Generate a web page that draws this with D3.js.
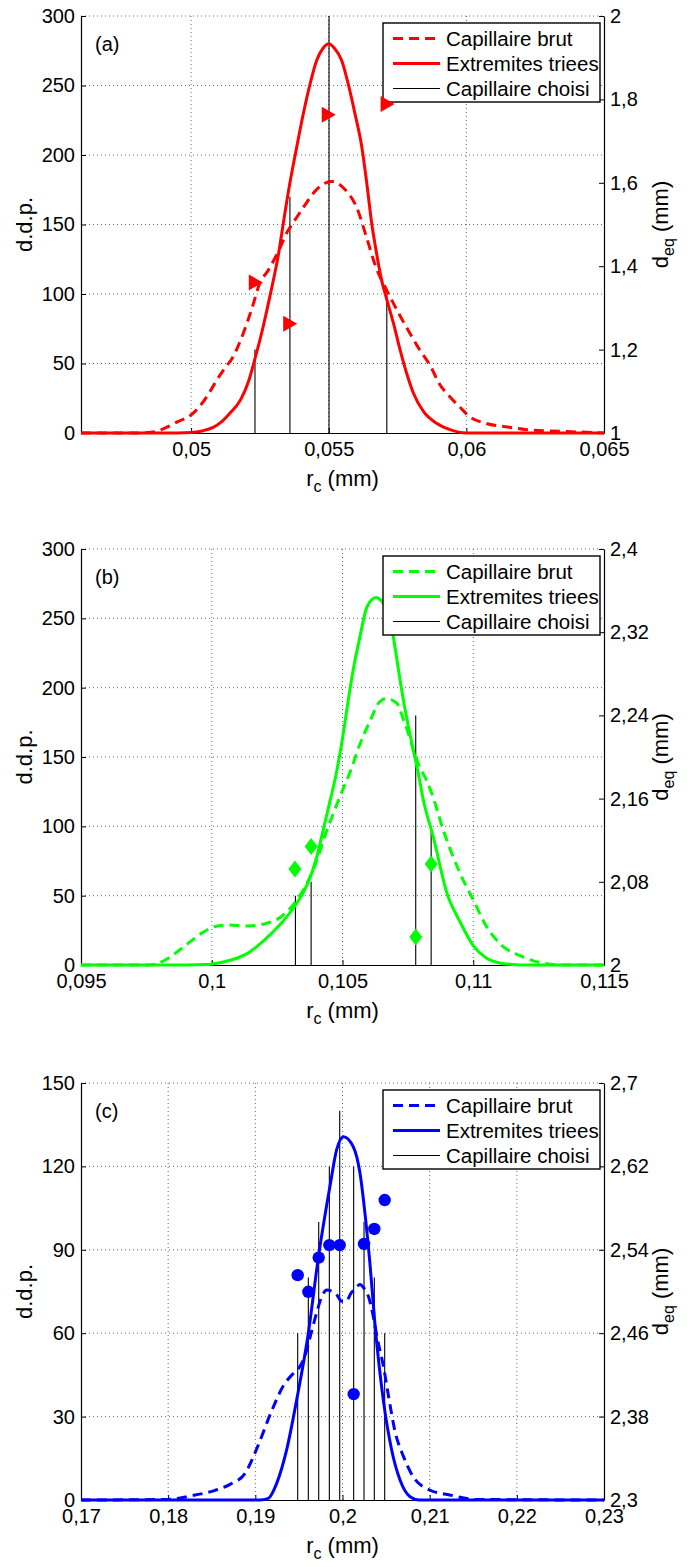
<!DOCTYPE html>
<html><head><meta charset="utf-8">
<script src="https://cdn.jsdelivr.net/npm/d3@7"></script>
<style>
body{margin:0;background:#fff}
svg{display:block}
text{font-family:"Liberation Sans",Arial,Helvetica,sans-serif}
</style>
</head><body>
<svg id="chart" width="690" height="1567"></svg>
<script>
// ---------------- Panel (a) ----------------
const aXTicks = [0.05, 0.055, 0.06, 0.065];
const aYTicks = [0, 50, 100, 150, 200, 250, 300];
const aY2Ticks = [1, 1.2, 1.4, 1.6, 1.8, 2];
const aBrutR = [0.046, 0.0480, 0.0486, 0.0491, 0.0495, 0.0500, 0.0503, 0.0506, 0.0509, 0.0512, 0.0515, 0.0519, 0.0522, 0.0525, 0.0528, 0.0532, 0.0535, 0.0537, 0.0541, 0.0546, 0.0551, 0.0556, 0.0560, 0.0564, 0.0567, 0.0571, 0.0576, 0.0580, 0.0583, 0.0587, 0.0590, 0.0594, 0.0598, 0.0601, 0.0607, 0.0615, 0.0622, 0.0634, 0.0648, 0.0650];
const aBrutV = [0, 0, 0.7, 4, 8, 13, 19, 27, 37, 46, 54, 72, 89, 108, 117, 132, 145, 151, 163, 176, 181, 175, 163, 139, 120, 103, 84, 70, 60, 48, 36, 26, 18, 12, 7, 4.3, 2.4, 1.2, 0.2, 0];
const aTrieR = [0.046, 0.0495, 0.0500, 0.0504, 0.0508, 0.0511, 0.0514, 0.0518, 0.0521, 0.0523, 0.0526, 0.05287, 0.0530, 0.05317, 0.05335, 0.05359, 0.05384, 0.05408, 0.05432, 0.05456, 0.0548, 0.0550, 0.0552, 0.05547, 0.05571, 0.05595, 0.0562, 0.05638, 0.05656, 0.05674, 0.05692, 0.05711, 0.05735, 0.05759, 0.05783, 0.05807, 0.05844, 0.05892, 0.05941, 0.0600, 0.065];
const aTrieV = [0, 0, 0.3, 1.5, 4, 8, 14, 24, 38, 52, 75, 99, 111, 128, 151, 180, 206, 230, 251, 268, 277, 280, 277, 268, 251, 230, 206, 180, 151, 129, 110, 96, 79, 60, 43, 29, 15.5, 7, 2.4, 0, 0];
const aChoisiR = [0.05232, 0.05359, 0.05501, 0.05711];
const aChoisiH = [60, 170, 300, 100];
const aDeqR = [0.05235, 0.0536, 0.0550, 0.05714];
const aDeqV = [1.361, 1.262, 1.763, 1.789];

// ---------------- Panel (b) ----------------
const bXTicks = [0.095, 0.1, 0.105, 0.11, 0.115];
const bYTicks = [0, 50, 100, 150, 200, 250, 300];
const bY2Ticks = [2, 2.08, 2.16, 2.24, 2.32, 2.4];
const bBrutR = [0.095, 0.0976, 0.0981, 0.0986, 0.0991, 0.0996, 0.1001, 0.1006, 0.1014, 0.1020, 0.10265, 0.10316, 0.1034, 0.10388, 0.1044, 0.1050, 0.10533, 0.10564, 0.10603, 0.10643, 0.10666, 0.10707, 0.10733, 0.10752, 0.10771, 0.1079, 0.10822, 0.10841, 0.10886, 0.1095, 0.1100, 0.1105, 0.1111, 0.1118, 0.1125, 0.1135, 0.115];
const bBrutV = [0, 0, 2.4, 8.4, 15.6, 22.8, 27.6, 28.8, 28.1, 29.6, 34.8, 44.5, 51, 68.5, 97, 126, 141, 158, 175, 190, 192, 189, 177, 167, 155, 145, 133, 124, 97, 66, 47, 28, 14, 6.7, 2, 0, 0];
const bTrieR = [0.095, 0.0990, 0.0998, 0.1000, 0.10074, 0.10137, 0.10201, 0.10265, 0.10316, 0.1034, 0.1037, 0.1040, 0.10427, 0.10452, 0.10475, 0.10503, 0.10522, 0.10541, 0.10567, 0.10593, 0.10628, 0.10669, 0.10694, 0.10714, 0.10733, 0.10752, 0.10771, 0.1079, 0.10809, 0.10847, 0.10899, 0.1095, 0.1100, 0.1105, 0.1110, 0.1115, 0.1120, 0.115];
const bTrieV = [0, 0, 0.3, 0.7, 3.6, 8.4, 18, 30, 42, 49, 60, 77, 98, 118, 137, 167, 191, 213, 237, 258, 265, 256, 237, 213, 191, 172, 155, 138, 119, 92.5, 52, 31, 14, 5, 1.5, 0.4, 0, 0];
const bChoisiR = [0.10320, 0.10380, 0.10780, 0.10839];
const bChoisiH = [50, 60, 180, 100];
const bDeqR = [0.10318, 0.10380, 0.10780, 0.10839];
const bDeqV = [2.0923, 2.1140, 2.0270, 2.0970];

// ---------------- Panel (c) ----------------
const cXTicks = [0.17, 0.18, 0.19, 0.2, 0.21, 0.22, 0.23];
const cYTicks = [0, 30, 60, 90, 120, 150];
const cY2Ticks = [2.3, 2.38, 2.46, 2.54, 2.62, 2.7];
const cBrutR = [0.17, 0.1800, 0.1826, 0.1852, 0.1872, 0.1888, 0.1903, 0.1918, 0.1932, 0.1942, 0.1949, 0.1957, 0.1964, 0.1970, 0.1976, 0.1982, 0.1986, 0.1993, 0.1999, 0.2004, 0.2010, 0.2016, 0.2020, 0.2025, 0.2030, 0.2034, 0.2040, 0.2047, 0.2053, 0.2060, 0.2070, 0.2081, 0.2100, 0.2123, 0.2154, 0.23];
const cBrutV = [0, 0.2, 1.5, 3.3, 5.8, 9.5, 19.5, 31.5, 41, 45, 47, 52, 60, 67, 73, 75.5, 75.3, 74, 71.5, 71.5, 74.5, 76.5, 77.5, 76, 73, 68, 58, 48, 37, 25, 15.6, 8.4, 3.6, 1.8, 0.2, 0];
const cTrieR = [0.17, 0.1905, 0.19149, 0.19245, 0.19359, 0.19474, 0.19608, 0.19722, 0.19857, 0.19933, 0.2001, 0.20124, 0.20201, 0.20258, 0.20315, 0.20373, 0.20468, 0.20564, 0.2066, 0.20775, 0.2088, 0.23];
const cTrieV = [0, 0, 0.6, 6, 18, 36, 60, 87, 113, 126, 130.7, 127, 117.5, 103, 85, 63, 36, 18, 7.2, 1.2, 0, 0];
const cChoisiR = [0.19486, 0.19608, 0.19727, 0.19849, 0.19968, 0.20128, 0.20247, 0.20365, 0.20484];
const cChoisiH = [60, 80, 100, 120, 140, 120, 100, 80, 60];
const cDeqR = [0.19486, 0.19608, 0.19727, 0.19849, 0.19968, 0.20128, 0.20247, 0.20365, 0.20484];
const cDeqV = [2.5157, 2.4997, 2.5325, 2.5445, 2.5445, 2.4016, 2.5456, 2.5600, 2.5877];

const legendLabels = ["Capillaire brut", "Extremites triees", "Capillaire choisi"];

// ---------------- drawing ----------------
const svg = d3.select("#chart");
const locale = d3.formatLocale({decimal: ",", thousands: "", grouping: [3], currency: ["", ""]});
const fmt = locale.format("~g");
const FONT = '"Liberation Sans",Arial,Helvetica,sans-serif';
const L = 81, R = 604;

const panels = [
  {tag: "(a)", top: 16, bottom: 433, color: "#ff0000", marker: "tri",
   xd: [0.046, 0.065], yd: [0, 300], y2d: [1, 2],
   xt: aXTicks, yt: aYTicks, y2t: aY2Ticks,
   brutR: aBrutR, brutV: aBrutV, trieR: aTrieR, trieV: aTrieV,
   chR: aChoisiR, chH: aChoisiH, dR: aDeqR, dV: aDeqV},
  {tag: "(b)", top: 549, bottom: 965, color: "#00ff00", marker: "dia",
   xd: [0.095, 0.115], yd: [0, 300], y2d: [2, 2.4],
   xt: bXTicks, yt: bYTicks, y2t: bY2Ticks,
   brutR: bBrutR, brutV: bBrutV, trieR: bTrieR, trieV: bTrieV,
   chR: bChoisiR, chH: bChoisiH, dR: bDeqR, dV: bDeqV},
  {tag: "(c)", top: 1083, bottom: 1500, color: "#0000ff", marker: "circ",
   xd: [0.17, 0.23], yd: [0, 150], y2d: [2.3, 2.7],
   xt: cXTicks, yt: cYTicks, y2t: cY2Ticks,
   brutR: cBrutR, brutV: cBrutV, trieR: cTrieR, trieV: cTrieV,
   chR: cChoisiR, chH: cChoisiH, dR: cDeqR, dV: cDeqV}
];

panels.forEach(p => {
  const g = svg.append("g");
  const x = d3.scaleLinear().domain(p.xd).range([L, R]);
  const y = d3.scaleLinear().domain(p.yd).range([p.bottom, p.top]);
  const y2 = d3.scaleLinear().domain(p.y2d).range([p.bottom, p.top]);

  // grid
  const grid = g.append("g").attr("stroke", "#6a6a6a").attr("stroke-width", 1)
    .attr("stroke-dasharray", "1,3").attr("fill", "none");
  grid.selectAll(".gx").data(p.xt.filter(v => x(v) > L + 1 && x(v) < R - 1)).join("line")
    .attr("x1", d => x(d)).attr("x2", d => x(d)).attr("y1", p.top).attr("y2", p.bottom);
  grid.selectAll(".gy").data(p.yt.filter(v => v !== p.yd[0])).join("line")
    .attr("x1", L).attr("x2", R).attr("y1", d => y(d)).attr("y2", d => y(d));

  // axes
  const styleAxis = sel => {
    sel.attr("font-size", 20).attr("font-family", FONT);
    sel.selectAll("path.domain").attr("stroke", "#000").attr("stroke-width", 1.2);
    sel.selectAll(".tick line").attr("stroke", "#000").attr("stroke-width", 1);
    sel.selectAll(".tick text").attr("fill", "#000");
  };
  g.append("g").attr("transform", `translate(0,${p.bottom})`)
    .call(d3.axisBottom(x).tickValues(p.xt).tickFormat(fmt).tickSize(-5).tickSizeOuter(0).tickPadding(9))
    .call(styleAxis);
  g.append("g").attr("transform", `translate(${L},0)`)
    .call(d3.axisLeft(y).tickValues(p.yt).tickFormat(fmt).tickSize(-5).tickSizeOuter(0).tickPadding(6))
    .call(styleAxis);
  g.append("g").attr("transform", `translate(${R},0)`)
    .call(d3.axisRight(y2).tickValues(p.y2t).tickFormat(fmt).tickSize(-5).tickSizeOuter(0).tickPadding(6))
    .call(styleAxis);

  // axis labels
  const xl = g.append("text").attr("x", (L + R) / 2).attr("y", p.bottom + 53)
    .attr("text-anchor", "middle").attr("font-size", 22);
  xl.append("tspan").text("r");
  xl.append("tspan").attr("font-size", 16).attr("dy", 6).text("c");
  xl.append("tspan").attr("dy", -6).text(" (mm)");

  g.append("text").attr("transform", `translate(32,${(p.top + p.bottom) / 2}) rotate(-90)`)
    .attr("text-anchor", "middle").attr("font-size", 22).text("d.d.p.");

  const yl = g.append("text").attr("transform", `translate(668,${(p.top + p.bottom) / 2}) rotate(-90)`)
    .attr("text-anchor", "middle").attr("font-size", 22);
  yl.append("tspan").text("d");
  yl.append("tspan").attr("font-size", 16).attr("dy", 6).text("eq");
  yl.append("tspan").attr("dy", -6).text(" (mm)");

  // choisi stems
  g.append("g").selectAll("line").data(p.chR.map((r, i) => ({r, h: p.chH[i]}))).join("line")
    .attr("x1", d => x(d.r)).attr("x2", d => x(d.r))
    .attr("y1", y(0)).attr("y2", d => y(d.h))
    .attr("stroke", "#000").attr("stroke-width", 1.1);

  const line = d3.line().x(d => x(d[0])).y(d => y(d[1])).curve(d3.curveMonotoneX);
  g.append("path").datum(p.brutR.map((r, i) => [r, p.brutV[i]]))
    .attr("d", line).attr("fill", "none").attr("stroke", p.color)
    .attr("stroke-width", 3).attr("stroke-dasharray", "10,6");
  g.append("path").datum(p.trieR.map((r, i) => [r, p.trieV[i]]))
    .attr("d", line).attr("fill", "none").attr("stroke", p.color)
    .attr("stroke-width", 3);

  // legend
  const lt = p.top + 7;
  const lg = g.append("g");
  lg.append("rect").attr("x", 383).attr("y", lt).attr("width", 217).attr("height", 79)
    .attr("fill", "#fff").attr("stroke", "#000").attr("stroke-width", 1.4);
  legendLabels.forEach((lab, i) => {
    const yy = lt + 15.5 + i * 25;
    const ln = lg.append("line").attr("x1", 393).attr("x2", 440).attr("y1", yy).attr("y2", yy);
    if (i === 0) ln.attr("stroke", p.color).attr("stroke-width", 3).attr("stroke-dasharray", "10,6");
    else if (i === 1) ln.attr("stroke", p.color).attr("stroke-width", 3);
    else ln.attr("stroke", "#000").attr("stroke-width", 1);
    lg.append("text").attr("x", 446).attr("y", yy).attr("dy", "0.35em")
      .attr("font-size", 20.5).text(lab);
  });

  // panel tag
  g.append("text").attr("x", 95).attr("y", p.top + 35).attr("font-size", 20).text(p.tag);

  // d_eq markers on right axis
  const md = p.dR.map((r, i) => ({r, v: p.dV[i]}));
  const mg = g.append("g").attr("fill", p.color);
  if (p.marker === "circ") {
    mg.selectAll("circle").data(md).join("circle")
      .attr("cx", d => x(d.r)).attr("cy", d => y2(d.v)).attr("r", 6.2);
  } else {
    const shape = p.marker === "tri" ? "M-7,-8L7,0L-7,8Z" : "M0,-8.5L6.5,0L0,8.5L-6.5,0Z";
    mg.selectAll("path").data(md).join("path")
      .attr("d", shape)
      .attr("transform", d => `translate(${x(d.r)},${y2(d.v)})`);
  }
});
</script>
</body></html>
